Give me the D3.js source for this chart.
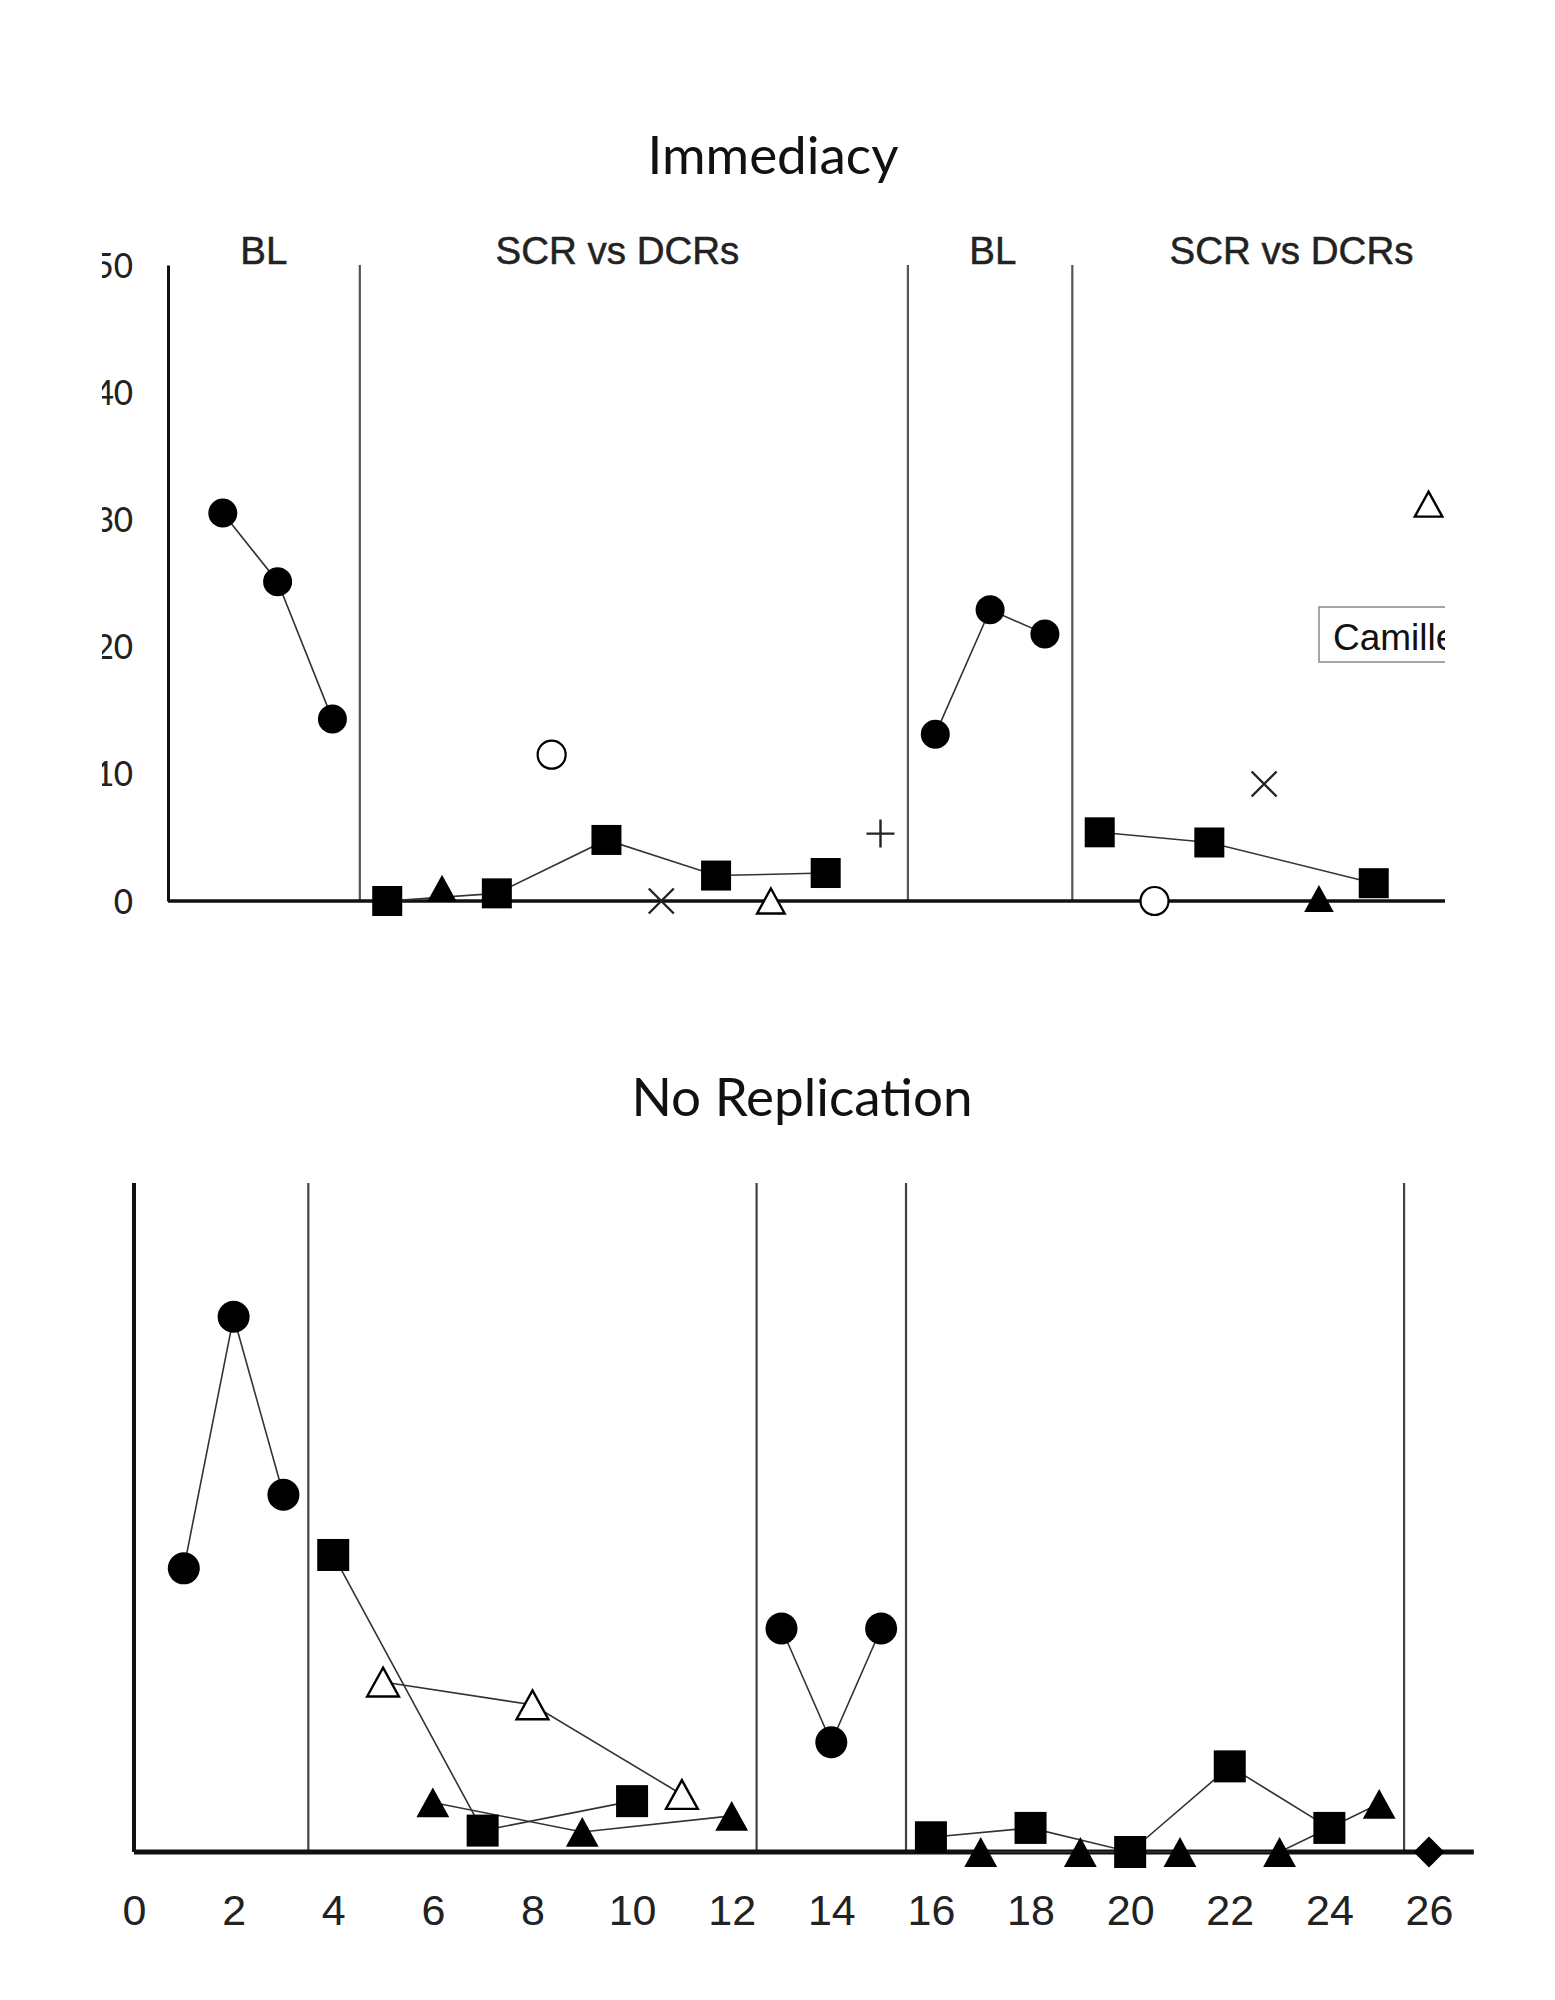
<!DOCTYPE html>
<html><head><meta charset="utf-8">
<script src="https://cdn.jsdelivr.net/npm/d3@7"></script>
<style>body{margin:0;background:#fff}</style>
</head><body>
<svg id="chart" width="1555" height="2000"></svg>
<script>
// ---------------- data ----------------
const immTitle = "Immediacy";
const norTitle = "No Replication";

const immYTicks = [0, 10, 20, 30, 40, 50];
const immPhaseBounds = [3.5, 13.5, 16.5];
const immPhaseLabels = ["BL", "SCR vs DCRs", "BL", "SCR vs DCRs"];
const immPhaseLabelAt = [1.75, 8.2, 15.05, 20.5];
const immLegend = ["Camille"];

// [session, value]
const immCircle1 = [[1, 30.5], [2, 25.1], [3, 14.3]];
const immCircle2 = [[14, 13.1], [15, 22.9], [16, 21.0]];
const immSquare1 = [[4, 0], [6, 0.6], [8, 4.8], [10, 2.0], [12, 2.2]];
const immSquare2 = [[17, 5.4], [19, 4.6], [22, 1.4]];
const immFilledTri = [[5, 1.0], [21, 0.2]];
const immOpenCircle = [[7, 11.5], [18, 0]];
const immCross = [[9, 0], [20, 9.2]];
const immOpenTri = [[11, 0], [23, 31.2]];
const immPlus = [[13, 5.3]];

const norXTicks = [0, 2, 4, 6, 8, 10, 12, 14, 16, 18, 20, 22, 24, 26];
const norPhaseBounds = [3.5, 12.5, 15.5, 25.5];
const norCircle1 = [[1, 21.2], [2, 40.0], [3, 26.7]];
const norSquare1 = [[4, 22.2], [7, 1.6], [10, 3.8]];
const norOpenTri = [[5, 12.7], [8, 11.0], [11, 4.3]];
const norFilledTri1 = [[6, 3.7], [9, 1.5], [12, 2.7]];
const norCircle2 = [[13, 16.7], [14, 8.2], [15, 16.7]];
const norSquare2 = [[16, 1.1], [18, 1.8], [20, 0], [22, 6.4], [24, 1.8]];
const norFilledTri2 = [[17, 0], [19, 0], [21, 0], [23, 0], [25, 3.6]];
const norDiamond = [[26, 0]];

// ---------------- drawing ----------------
const svg = d3.select("#chart");
const LINE = "#333";
const SANS = "'Liberation Sans', Arial, sans-serif";
const TITLEF = "Lato, 'Open Sans', sans-serif";

function drawLine(g, data, x, y) {
  g.append("path").datum(data)
    .attr("fill", "none").attr("stroke", LINE).attr("stroke-width", 1.6)
    .attr("d", d3.line().x(d => x(d[0])).y(d => y(d[1])));
}
function drawMarkers(g, data, x, y, shape, s) {
  const sel = g.selectAll(null).data(data).enter();
  if (shape === "circle" || shape === "ocircle") {
    sel.append("circle").attr("cx", d => x(d[0])).attr("cy", d => y(d[1])).attr("r", s / 2)
      .attr("fill", shape === "circle" ? "#000" : "#fff")
      .attr("stroke", "#000").attr("stroke-width", shape === "circle" ? 0 : 2.2);
  } else if (shape === "square") {
    sel.append("rect").attr("x", d => x(d[0]) - s / 2).attr("y", d => y(d[1]) - s / 2)
      .attr("width", s).attr("height", s).attr("fill", "#000");
  } else if (shape === "tri" || shape === "otri") {
    const w = s * 1.06, h = s * 0.96;
    sel.append("path").attr("d", d => {
      const cx = x(d[0]), cy = y(d[1]);
      return `M${cx},${cy - h / 2}L${cx + w / 2},${cy + h / 2}L${cx - w / 2},${cy + h / 2}Z`;
    }).attr("fill", shape === "tri" ? "#000" : "#fff")
      .attr("stroke", "#000").attr("stroke-width", shape === "tri" ? 0 : 2.4).attr("stroke-linejoin", "miter");
  } else if (shape === "diamond") {
    sel.append("path").attr("d", d => {
      const cx = x(d[0]), cy = y(d[1]);
      return `M${cx},${cy - s / 2}L${cx + s / 2},${cy}L${cx},${cy + s / 2}L${cx - s / 2},${cy}Z`;
    }).attr("fill", "#000");
  } else if (shape === "cross") {
    sel.append("path").attr("d", d => {
      const cx = x(d[0]), cy = y(d[1]), r = s / 2;
      return `M${cx - r},${cy - r}L${cx + r},${cy + r}M${cx + r},${cy - r}L${cx - r},${cy + r}`;
    }).attr("stroke", "#222").attr("stroke-width", 2.4).attr("fill", "none");
  } else if (shape === "plus") {
    sel.append("path").attr("d", d => {
      const cx = x(d[0]), cy = y(d[1]), r = s / 2;
      return `M${cx - r},${cy}L${cx + r},${cy}M${cx},${cy - r}L${cx},${cy + r}`;
    }).attr("stroke", "#222").attr("stroke-width", 2.4).attr("fill", "none");
  }
}

// ----- Top chart: Immediacy -----
svg.append("text").attr("x", 773).attr("y", 174).attr("text-anchor", "middle")
  .attr("font-family", TITLEF).attr("font-size", 53).attr("fill", "#111")
  .text(immTitle);

svg.append("defs").append("clipPath").attr("id", "topClip")
  .append("rect").attr("x", 102).attr("y", 180).attr("width", 1445 - 102).attr("height", 800);

const gT = svg.append("g").attr("clip-path", "url(#topClip)");
const xI = d3.scaleLinear().domain([0, 23.3]).range([168, 1445]);
const yI = d3.scaleLinear().domain([0, 50]).range([901, 265]);

// y axis with labels
const yAx = gT.append("g").attr("transform", `translate(${xI(0)},0)`)
  .call(d3.axisLeft(yI).tickValues(immYTicks).tickSize(0).tickPadding(35));
yAx.select(".domain").attr("stroke", "#111").attr("stroke-width", 3);
yAx.selectAll("text").attr("font-family", "Carlito, 'Liberation Sans Narrow', 'Open Sans', sans-serif")
  .attr("font-size", 38).attr("fill", "#222");

// phase lines
gT.selectAll(null).data(immPhaseBounds).enter().append("line")
  .attr("x1", d => xI(d)).attr("x2", d => xI(d)).attr("y1", yI(50)).attr("y2", yI(0))
  .attr("stroke", "#555").attr("stroke-width", 2.2);

// phase labels
gT.selectAll(null).data(immPhaseLabels).enter().append("text")
  .attr("x", (d, i) => xI(immPhaseLabelAt[i])).attr("y", 264).attr("text-anchor", "middle")
  .attr("font-family", SANS).attr("font-size", 38.5).attr("fill", "#222")
  .attr("stroke", "#222").attr("stroke-width", 0.5).text(d => d);

// x axis
gT.append("line").attr("x1", xI(0)).attr("x2", xI(23.3)).attr("y1", yI(0)).attr("y2", yI(0))
  .attr("stroke", "#111").attr("stroke-width", 3.5);

// legend
gT.append("rect").attr("x", 1319).attr("y", 607).attr("width", 220).attr("height", 55)
  .attr("fill", "#fff").attr("stroke", "#888").attr("stroke-width", 1.5);
gT.append("text").attr("x", 1333).attr("y", 650).attr("font-family", SANS).attr("font-size", 37)
  .attr("fill", "#111").text(immLegend[0]);

[immCircle1, immCircle2, immSquare1, immSquare2].forEach(s => drawLine(gT, s, xI, yI));
drawMarkers(gT, immCircle1, xI, yI, "circle", 29);
drawMarkers(gT, immCircle2, xI, yI, "circle", 29);
drawMarkers(gT, immSquare1, xI, yI, "square", 30);
drawMarkers(gT, immSquare2, xI, yI, "square", 30);
drawMarkers(gT, immFilledTri, xI, yI, "tri", 28);
drawMarkers(gT, immOpenCircle, xI, yI, "ocircle", 28);
drawMarkers(gT, immCross, xI, yI, "cross", 25);
drawMarkers(gT, immOpenTri, xI, yI, "otri", 26);
drawMarkers(gT, immPlus, xI, yI, "plus", 28);

// ----- Bottom chart: No Replication -----
svg.append("text").attr("x", 802).attr("y", 1116).attr("text-anchor", "middle")
  .attr("font-family", TITLEF).attr("font-size", 53).attr("fill", "#111")
  .text(norTitle);

const gB = svg.append("g");
const xN = d3.scaleLinear().domain([0, 26]).range([134, 1429]);
const yN = d3.scaleLinear().domain([0, 50]).range([1852, 1183]);

gB.selectAll(null).data(norPhaseBounds).enter().append("line")
  .attr("x1", d => xN(d)).attr("x2", d => xN(d)).attr("y1", yN(50)).attr("y2", yN(0))
  .attr("stroke", "#444").attr("stroke-width", 2.2);

gB.append("line").attr("x1", xN(0)).attr("x2", xN(0)).attr("y1", yN(50)).attr("y2", yN(0))
  .attr("stroke", "#111").attr("stroke-width", 4);

const xAx = gB.append("g").attr("transform", `translate(0,${yN(0)})`)
  .call(d3.axisBottom(xN).tickValues(norXTicks).tickSize(0).tickPadding(42));
xAx.select(".domain").remove();
xAx.selectAll("text").attr("font-family", SANS).attr("font-size", 43).attr("fill", "#222");

gB.append("line").attr("x1", xN(0)).attr("x2", xN(26.9)).attr("y1", yN(0)).attr("y2", yN(0))
  .attr("stroke", "#111").attr("stroke-width", 5);

[norCircle1, norSquare1, norOpenTri, norFilledTri1, norCircle2, norSquare2, norFilledTri2]
  .forEach(s => drawLine(gB, s, xN, yN));
drawMarkers(gB, norCircle1, xN, yN, "circle", 32);
drawMarkers(gB, norCircle2, xN, yN, "circle", 32);
drawMarkers(gB, norSquare1, xN, yN, "square", 32);
drawMarkers(gB, norSquare2, xN, yN, "square", 32);
drawMarkers(gB, norOpenTri, xN, yN, "otri", 30);
drawMarkers(gB, norFilledTri1, xN, yN, "tri", 31);
drawMarkers(gB, norFilledTri2, xN, yN, "tri", 31);
drawMarkers(gB, norDiamond, xN, yN, "diamond", 31);
</script>
</body></html>
